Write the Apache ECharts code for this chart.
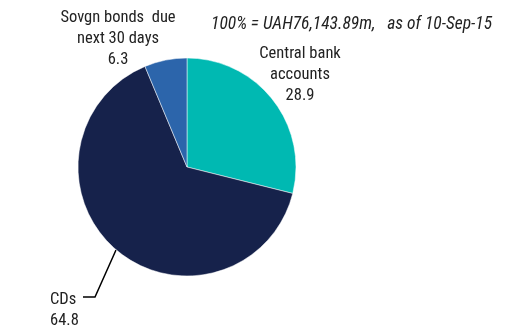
<!DOCTYPE html>
<html><head><meta charset="utf-8">
<script src="https://cdn.jsdelivr.net/npm/echarts@6/dist/echarts.min.js"></script>
<style>html,body{margin:0;padding:0;background:#fff}#c{width:508px;height:331px}</style>
</head><body><div id="c"></div>
<script>
var categories = ['Central bank\naccounts', 'CDs', 'Sovgn bonds  due\nnext 30 days'];
var values = [28.9, 64.8, 6.3];
var colors = ['#00B9B2', '#16224B', '#2C65AB'];
var note = '100% = UAH76,143.89m,   as of 10-Sep-15';

var FONT = '"Liberation Sans Narrow", "Arial Narrow", "Roboto Condensed", Roboto, sans-serif';
var labelPos = [
  {x: 300, y: 75, align: 'center'},
  {x: 50, y: 310, align: 'left'},
  {x: 118, y: 39, align: 'center'}
];
var chart = echarts.init(document.getElementById('c'));
chart.setOption({
  animation: false,
  title: {
    text: note, left: 206, top: 11,
    textStyle: {fontFamily: FONT, fontStyle: 'italic', fontWeight: 'normal', fontSize: 17.5, color: '#222'}
  },
  series: [{
    type: 'pie',
    center: [187, 167],
    radius: [0, 109],
    startAngle: 90,
    clockwise: true,
    itemStyle: {borderColor: '#fff', borderWidth: 0.5},
    data: categories.map(function (c, i) {
      return {name: c, value: values[i], itemStyle: {color: colors[i]}};
    }),
    label: {
      show: true, position: 'outside',
      formatter: function (p) { return p.name + '\n' + p.value.toFixed(1); },
      fontFamily: FONT, fontSize: 16.5, lineHeight: 21, color: '#222'
    },
    labelLine: {show: true, lineStyle: {color: '#000', width: 1.5}},
    labelLayout: function (p) {
      var lp = labelPos[p.dataIndex];
      var r = {x: lp.x, y: lp.y, align: lp.align, verticalAlign: 'middle'};
      if (p.dataIndex === 1) {
        r.labelLinePoints = [[116, 250], [95, 297], [83, 297]];
      } else {
        r.labelLinePoints = [[0, 0], [0, 0], [0, 0]];
      }
      return r;
    }
  }]
});
</script></body></html>
